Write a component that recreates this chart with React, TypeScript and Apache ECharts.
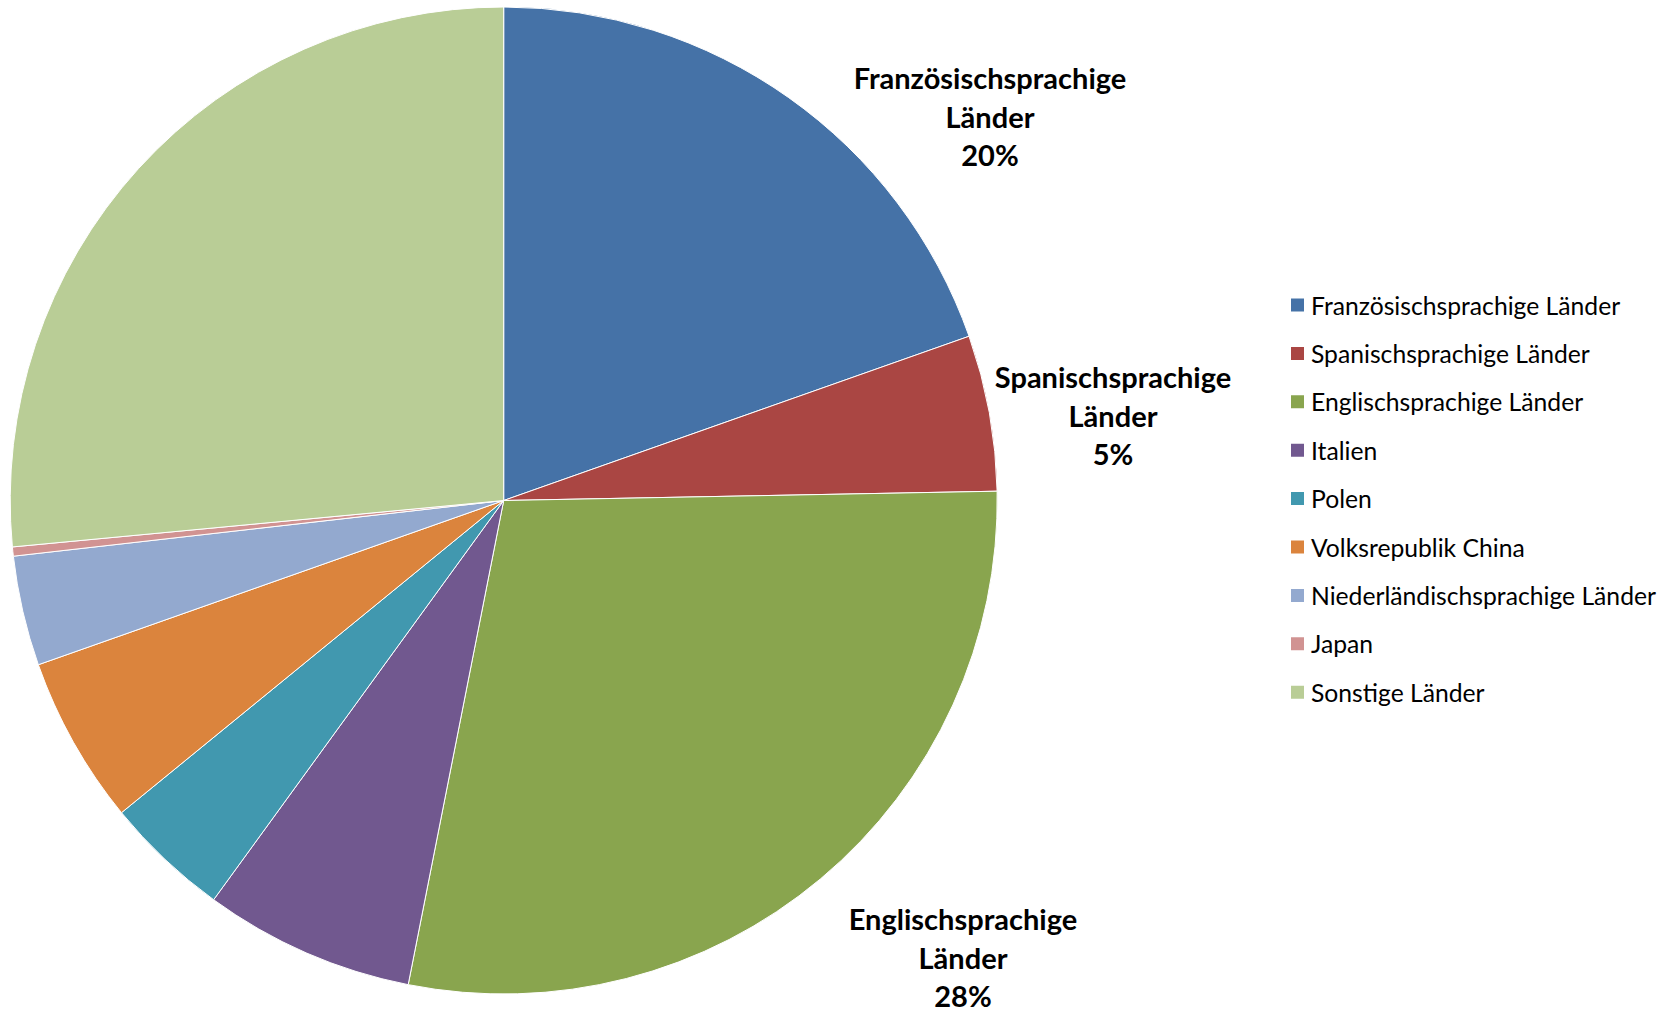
import React, { useEffect, useRef } from "react";
import * as echarts from "echarts";

const categories = [
  "Französischsprachige Länder",
  "Spanischsprachige Länder",
  "Englischsprachige Länder",
  "Italien",
  "Polen",
  "Volksrepublik China",
  "Niederländischsprachige Länder",
  "Japan",
  "Sonstige Länder",
];
const values = [19.6, 5.1, 28.4, 6.9, 4.1, 5.5, 3.6, 0.3, 26.5];
const labelled = [true, true, true, false, false, false, false, false, false];
const colors = ["#4572A7", "#AA4643", "#89A54E", "#71588F", "#4198AF", "#DB843D", "#93A9CF", "#D19392", "#B9CD96"];

const labelPositions: Record<number, [number, number]> = {
  0: [990, 116],
  1: [1113, 415],
  2: [963, 957],
};

export default function App() {
  const ref = useRef<HTMLDivElement>(null);
  useEffect(() => {
    document.body.style.margin = "0";
    if (!ref.current) return;
    const chart = echarts.init(ref.current, undefined, { renderer: "svg" });
    const font = "Lato";
    chart.setOption({
      animation: false,
      backgroundColor: "#ffffff",
      color: colors,
      legend: {
        orient: "vertical",
        left: 1284,
        top: 287.5,
        itemWidth: 15,
        itemHeight: 15,
        itemGap: 23.4,
        icon: "rect",
        textStyle: { fontFamily: font, fontSize: 24.7, color: "#000", padding: [0, 0, 0, 1] },
        data: categories,
      },
      series: [
        {
          type: "pie",
          center: [503.7, 500.5],
          radius: 493.5,
          startAngle: 90,
          clockwise: true,
          label: {
            show: true,
            position: "outside",
            fontFamily: font,
            fontWeight: "bold",
            fontSize: 29,
            lineHeight: 38.7,
            color: "#000",
            align: "center",
            formatter: (p: any) => p.name.replace(" ", "\n") + "\n" + Math.round(p.percent) + "%",
          },
          labelLine: { show: false },
          labelLayout: (params: any) => {
            const pos = labelPositions[params.dataIndex];
            if (!pos) return {};
            return { x: pos[0], y: pos[1], align: "center", verticalAlign: "middle" };
          },
          itemStyle: { borderColor: "#ffffff", borderWidth: 1 },
          emphasis: { disabled: true },
          data: categories.map((name, i) => ({
            name,
            value: values[i],
            label: { show: labelled[i] },
          })),
        },
      ],
    });
    return () => chart.dispose();
  }, []);
  return <div ref={ref} style={{ width: 1664, height: 1012 }} />;
}
